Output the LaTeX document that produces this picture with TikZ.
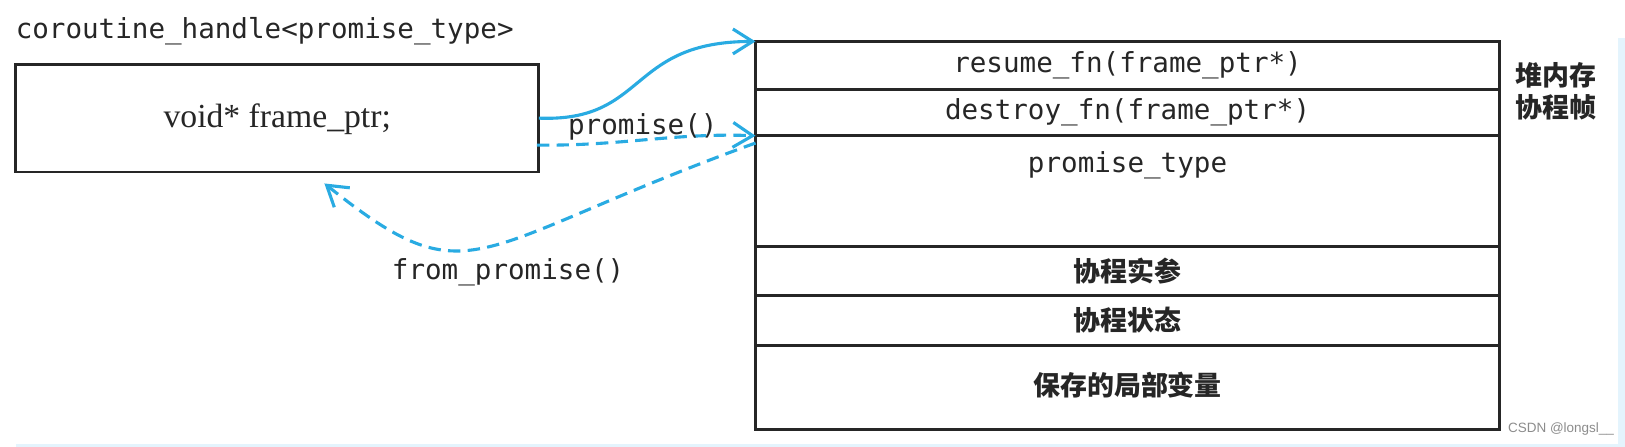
\documentclass[tikz,border=0pt]{standalone}
\usepackage{fontspec}
\setmainfont{Liberation Serif}
\newfontfamily\monof{DejaVu Sans Mono}
\newfontfamily\cjk{Noto Sans CJK SC}
\newfontfamily\wmf{Liberation Sans}
\usetikzlibrary{arrows.meta,calc}
\definecolor{linkblue}{RGB}{41,171,226}
\definecolor{stripblue}{RGB}{228,244,253}
\tikzset{
  boxline/.style={draw=black!85, line width=2.8pt, outer sep=0pt},
  rowbox/.style={boxline, minimum width=718pt, inner sep=0pt, anchor=north west},
  monotext/.style={font=\monof\fontsize{26.6}{30}\selectfont, text=black!85, inner sep=0pt},
  cjktext/.style={font=\cjk\bfseries\fontsize{26}{30}\selectfont, text=black!85, inner sep=0pt},
  link/.style={draw=linkblue, line width=3pt, -{Straight Barb[length=19pt,width=24pt,line width=3pt]}},
  dlink/.style={link, dash pattern=on 12pt off 7pt},
}
\begin{document}
\begin{tikzpicture}[x=1pt,y=-1pt]
\useasboundingbox (0,0) rectangle (1568,431.3);
\fill[white] (0,0) rectangle (1568,431.3);
\fill[stripblue] (1561,37) rectangle (1568,431.3);
\fill[stripblue] (15.5,428.5) rectangle (1568,431.3);

% left handle
\node[monotext, anchor=west] (title) at (15,30) {coroutine\_handle<promise\_type>};
\node[boxline, minimum width=505pt, minimum height=104pt, anchor=north west, inner sep=0pt] (handle) at (15,62) {};
\node[font=\fontsize{32.5}{35}\selectfont, text=black!85, inner sep=0pt] (ptr) at ($(handle.center)+(0,1)$) {void* frame\_ptr;};

% right frame rows
\node[rowbox, minimum height=46pt] (r1) at (729,40) {};
\node[rowbox, minimum height=45pt] (r2) at (r1.south west) {};
\node[rowbox, minimum height=107pt] (r3) at (r2.south west) {};
\node[rowbox, minimum height=47pt] (r4) at (r3.south west) {};
\node[rowbox, minimum height=48pt] (r5) at (r4.south west) {};
\node[rowbox, minimum height=81pt] (r6) at (r5.south west) {};

\node[monotext] (t1) at (r1.center) {resume\_fn(frame\_ptr*)};
\node[monotext] (t2) at (r2.center) {destroy\_fn(frame\_ptr*)};
\node[monotext] (t3) at ($(r3.north)+(0,28)$) {promise\_type};
\node[cjktext] (t4) at (r4.center) {协程实参};
\node[cjktext] (t5) at (r5.center) {协程状态};
\node[cjktext] (t6) at ($(r6.center)+(0,-2)$) {保存的局部变量};

\node[font=\cjk\bfseries\fontsize{26}{31}\selectfont, text=black!85, align=left, inner sep=0pt, anchor=north west] (heap) at (1462,60) {堆内存\\协程帧};

% connectors
\coordinate (h2) at ($(handle.north east)+(-2,78)$);
\coordinate (back) at (313,177);
\coordinate (r3s) at ($(r3.north west)+(0,7)$);
\draw[link] (handle.east) .. controls (625,118) and (605,40) .. (r1.north west);
\draw[dlink] (h2) .. controls (600,141) and (650,128) .. (r2.south west);
\draw[dlink] (r3s) .. controls (450,239) and (456,291) .. (back);

\node[monotext, anchor=west] (lp) at (548,122) {promise()};
\node[monotext, anchor=west] (lfp) at (378,263) {from\_promise()};

\node[font=\wmf\fontsize{13}{15}\selectfont, text=black!45, anchor=west, inner sep=0pt] (wm) at (1455,414) {CSDN @longsl\_\_};
\end{tikzpicture}
\end{document}
